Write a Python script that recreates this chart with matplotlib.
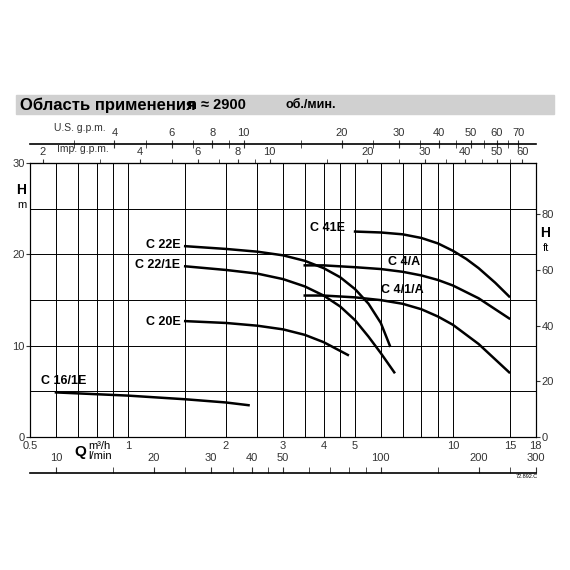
import numpy as np
import matplotlib.pyplot as plt

plt.rcParams.update({'font.size': 8, 'font.family': ['Liberation Sans', 'DejaVu Sans']})

# curve data: Q in m3/h, H in m
q_161e = [0.6, 1.0, 1.5, 2.0, 2.35]
h_161e = [4.9, 4.55, 4.15, 3.8, 3.5]
q_20e = [1.5, 2.0, 2.5, 3.0, 3.5, 4.0, 4.75]
h_20e = [12.7, 12.5, 12.2, 11.8, 11.2, 10.4, 9.0]
q_221e = [1.5, 2.0, 2.5, 3.0, 3.5, 4.0, 4.5, 5.0, 5.5, 6.0, 6.6]
h_221e = [18.7, 18.3, 17.9, 17.3, 16.5, 15.5, 14.3, 12.8, 11.0, 9.2, 7.1]
q_22e = [1.5, 2.0, 2.5, 3.0, 3.5, 4.0, 4.5, 5.0, 5.5, 6.0, 6.4]
h_22e = [20.9, 20.6, 20.3, 19.9, 19.3, 18.5, 17.5, 16.2, 14.6, 12.5, 10.0]
q_4a = [3.5, 4.0, 5.0, 6.0, 7.0, 8.0, 9.0, 10.0, 12.0, 14.9]
h_4a = [18.8, 18.8, 18.6, 18.4, 18.1, 17.7, 17.2, 16.6, 15.2, 13.0]
q_41a = [3.5, 4.0, 5.0, 6.0, 7.0, 8.0, 9.0, 10.0, 12.0, 14.9]
h_41a = [15.5, 15.5, 15.3, 15.0, 14.6, 14.0, 13.2, 12.3, 10.2, 7.1]
q_41e = [5.0, 6.0, 7.0, 8.0, 9.0, 10.0, 11.0, 12.0, 13.5, 14.9]
h_41e = [22.5, 22.4, 22.2, 21.8, 21.2, 20.4, 19.5, 18.5, 16.9, 15.4]

curves = [(q_161e, h_161e), (q_20e, h_20e), (q_221e, h_221e), (q_22e, h_22e),
          (q_4a, h_4a), (q_41a, h_41a), (q_41e, h_41e)]
labels = [('C 16/1E', 0.54, 6.2, 'left'), ('C 20E', 1.45, 12.6, 'right'),
          ('C 22/1E', 1.45, 18.8, 'right'), ('C 22E', 1.45, 21.0, 'right'),
          ('C 41E', 4.65, 22.9, 'right'), ('C 4/A', 6.3, 19.2, 'left'),
          ('C 4/1/A', 6.0, 16.1, 'left')]

vgrid = [0.6, 0.7, 0.8, 0.9, 1, 1.5, 2, 2.5, 3, 3.5, 4, 4.5, 5, 6, 7, 8, 9, 10, 15]
q_ticks = [0.5, 1, 2, 3, 4, 5, 10, 15, 18]
us_ticks = [4, 6, 8, 10, 20, 30, 40, 50, 60, 70]
us_minor = [3, 5, 7, 9, 15, 25, 35, 45, 55, 65]
imp_ticks = [2, 4, 6, 8, 10, 20, 30, 40, 50, 60]
imp_minor = [3, 5, 7, 9, 15, 25, 35, 45, 55]
lmin_ticks = [10, 20, 30, 40, 50, 100, 200, 300]
lmin_minor = [15, 25, 35, 45, 60, 70, 80, 90, 150, 250]

fig = plt.figure(figsize=(5.7, 5.7), dpi=100)
ax = fig.add_axes([0.053, 0.233, 0.887, 0.481])
ax.set_xscale('log')
ax.set_xlim(0.5, 18)
ax.set_ylim(0, 30)
for v in vgrid:
    ax.axvline(v, color='black', lw=0.7)
for h in [5, 10, 15, 20, 25]:
    ax.axhline(h, color='black', lw=0.7)
for q, h in curves:
    ax.plot(q, h, color='black', lw=1.8)
for t, x, y, ha in labels:
    ax.text(x, y, t, ha=ha, va='center', fontsize=9, fontweight='bold')

ax.set_xticks(q_ticks)
ax.set_xticklabels([str(t) for t in q_ticks])
ax.xaxis.set_minor_locator(plt.NullLocator())
ax.set_yticks([0, 10, 20, 30])
ax.tick_params(direction='out', length=3, pad=1, colors='#333333')
ax.tick_params(axis='x', length=0, pad=3)

ay = ax.twinx()
ay.set_ylim(0, 30 * 3.281)
ay.set_yticks([0, 20, 40, 60, 80])
ay.tick_params(direction='out', length=3, pad=1, colors='#333333')

fig.text(0.028, 0.66, 'H', fontsize=10, fontweight='bold')
fig.text(0.03, 0.635, 'm', fontsize=8)
fig.text(0.948, 0.585, 'H', fontsize=10, fontweight='bold')
fig.text(0.952, 0.56, 'ft', fontsize=8)
fig.text(0.13, 0.2, 'Q', fontsize=11, fontweight='bold')
fig.text(0.155, 0.213, 'm³/h', fontsize=8)
fig.text(0.155, 0.195, 'l/min', fontsize=8)
fig.text(0.905, 0.162, '72.892.C', fontsize=4)


def sec_axis(loc, factor, ticks, minor, up_labels=True):
    s = ax.secondary_xaxis(loc, functions=(lambda x: x * factor, lambda x: x / factor))
    s.set_xticks(ticks)
    s.set_xticklabels([str(t) for t in ticks])
    s.set_xticks(minor, minor=True)
    s.set_xticklabels([], minor=True)
    s.tick_params(which='both', direction='inout', length=6, colors='#333333', pad=1)
    if up_labels:
        s.xaxis.set_ticks_position('top')
    return s


s_imp = sec_axis('top', 3.666, imp_ticks, imp_minor)
s_imp.tick_params(which='both', direction='out', length=3)
s_us = sec_axis(1.07, 4.403, us_ticks, us_minor)
s_us.spines['top'].set_linewidth(1.2)
s_l = ax.secondary_xaxis(-0.13, functions=(lambda x: x * 16.667, lambda x: x / 16.667))
s_l.set_xticks(lmin_ticks)
s_l.set_xticklabels([str(t) for t in lmin_ticks])
s_l.set_xticks(lmin_minor, minor=True)
s_l.set_xticklabels([], minor=True)
s_l.tick_params(which='both', direction='in', length=4, colors='#333333', pad=-14,
                top=False, bottom=True)
s_l.spines['bottom'].set_linewidth(1.2)

fig.text(0.095, 0.77, 'U.S. g.p.m.', fontsize=7.5, color='#333333')
fig.text(0.1, 0.733, 'Imp. g.p.m.', fontsize=7.5, color='#333333')

fig.patches.append(plt.Rectangle((0.028, 0.80), 0.944, 0.034, transform=fig.transFigure,
                                 color='#d0d0d0', zorder=0))
fig.text(0.035, 0.815, 'Область применения', fontsize=12, va='center', fontweight='bold')
fig.text(0.33, 0.815, 'n ≈ 2900', fontsize=10.5, va='center', fontweight='bold')
fig.text(0.5, 0.815, 'об./мин.', fontsize=9, va='center', fontweight='bold')

fig.savefig('out.png', dpi=100)
